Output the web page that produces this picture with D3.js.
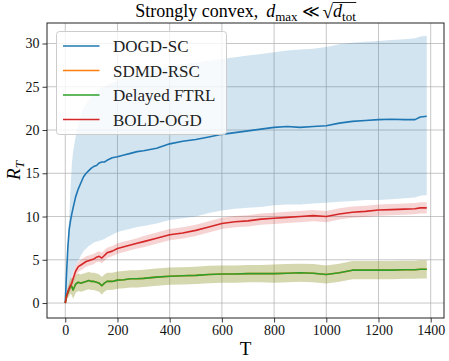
<!DOCTYPE html>
<html>
<head>
<meta charset="utf-8">
<script src="https://cdn.jsdelivr.net/npm/d3@7"></script>
<style>
  body { margin: 0; background: #fff; }
</style>
</head>
<body>
<svg id="chart" width="449" height="361"></svg>
<script>
// ----------------------------
// Data
// ----------------------------
const T = [0, 5, 10, 15, 20, 25, 30, 40, 50, 60, 70, 80, 90, 100, 110, 120, 130, 140, 150, 160,
  180, 200, 225, 250, 275, 300, 350, 400, 450, 500, 550, 600, 650, 700, 750, 800, 850, 900, 950,
  1000, 1050, 1100, 1150, 1200, 1250, 1300, 1340, 1360, 1385];

const dogdMean = [0, 3.5, 6.5, 8.5, 9.5, 10.3, 11.0, 12.3, 13.2, 13.9, 14.6, 15.0, 15.3, 15.6, 15.8, 15.9, 16.2, 16.3, 16.3, 16.5,
  16.8, 16.9, 17.1, 17.3, 17.5, 17.6, 17.9, 18.4, 18.7, 18.9, 19.2, 19.5, 19.7, 19.9, 20.1, 20.3, 20.4, 20.3, 20.4,
  20.5, 20.8, 21.0, 21.1, 21.2, 21.25, 21.2, 21.2, 21.5, 21.6];
const dogdHigh = [0, 4, 7, 10, 13, 16, 17.5, 19.3, 20.6, 21.8, 22.6, 23.0, 23.5, 23.9, 24.2, 24.5, 24.7, 24.9, 25.0, 25.2,
  25.5, 25.7, 26.0, 26.2, 26.5, 26.7, 27.0, 27.3, 27.6, 27.8, 28.0, 28.2, 28.4, 28.6, 28.8, 29.0, 29.2, 29.3, 29.4,
  29.6, 29.9, 30.1, 30.2, 30.3, 30.4, 30.5, 30.6, 30.8, 30.9];
const dogdLow = [0, 1.0, 1.7, 2.2, 2.6, 3.0, 3.5, 4.3, 4.9, 5.5, 6.0, 6.3, 6.6, 6.8, 7.0, 7.1, 7.2, 7.3, 7.4, 7.6,
  7.9, 8.2, 8.4, 8.6, 8.8, 8.9, 9.2, 9.6, 9.8, 10.0, 10.4, 10.7, 10.9, 11.0, 11.1, 11.3, 11.4, 11.4, 11.5,
  11.6, 11.7, 11.8, 11.9, 11.9, 12.0, 12.1, 12.2, 12.4, 12.5];

const ftrlMean = [0, 0.8, 1.2, 1.6, 2.0, 1.9, 1.5, 2.2, 2.4, 2.3, 2.4, 2.5, 2.6, 2.5, 2.5, 2.4, 2.3, 2.0, 2.3, 2.5,
  2.5, 2.65, 2.7, 2.8, 2.8, 2.85, 3.0, 3.1, 3.15, 3.2, 3.3, 3.35, 3.35, 3.4, 3.4, 3.4, 3.45, 3.5, 3.45,
  3.3, 3.5, 3.8, 3.8, 3.8, 3.8, 3.85, 3.85, 3.9, 3.9];
const ftrlSpread = [0, 0.4, 0.6, 0.8, 0.9, 1.0, 1.0, 1.0, 1.0, 1.0, 1.0, 1.0, 1.0, 1.0, 1.0, 1.0, 1.0, 1.0, 1.0, 1.0,
  1.0, 1.0, 1.0, 1.0, 1.0, 1.0, 1.0, 1.0, 1.0, 1.0, 1.0, 1.0, 1.0, 1.0, 1.0, 1.05, 1.05, 1.05, 1.05,
  1.05, 1.05, 1.05, 1.05, 1.05, 1.05, 1.05, 1.05, 1.05, 1.05];

// SDMD-RSC sits exactly under Delayed FTRL in the picture (only the olive band mix shows it)
const sdmdMean = ftrlMean;
const sdmdSpread = ftrlSpread;

const boldMean = [0, 0.8, 1.3, 1.7, 2.0, 2.3, 2.8, 3.7, 4.2, 4.4, 4.6, 4.8, 4.9, 5.0, 5.1, 5.3, 5.4, 5.2, 5.5, 5.8,
  6.0, 6.3, 6.5, 6.7, 6.9, 7.1, 7.5, 7.9, 8.1, 8.4, 8.8, 9.2, 9.4, 9.5, 9.7, 9.8, 9.9, 10.0, 10.1,
  10.0, 10.3, 10.5, 10.6, 10.75, 10.8, 10.85, 10.9, 11.0, 11.0];
const boldSpread = [0, 0.3, 0.4, 0.5, 0.55, 0.6, 0.6, 0.6, 0.6, 0.6, 0.6, 0.6, 0.6, 0.6, 0.6, 0.6, 0.6, 0.6, 0.6, 0.6,
  0.6, 0.6, 0.6, 0.6, 0.6, 0.65, 0.65, 0.65, 0.65, 0.65, 0.65, 0.65, 0.65, 0.65, 0.65, 0.65, 0.65, 0.65, 0.65,
  0.65, 0.65, 0.65, 0.65, 0.65, 0.65, 0.65, 0.65, 0.65, 0.65];

const legendLabels = ["DOGD-SC", "SDMD-RSC", "Delayed FTRL", "BOLD-OGD"];
const xTicks = [0, 200, 400, 600, 800, 1000, 1200, 1400];
const yTicks = [0, 5, 10, 15, 20, 25, 30];

const SERIF = "'Liberation Serif', 'Times New Roman', 'DejaVu Serif', serif";

// ----------------------------
// Setup
// ----------------------------
const svg = d3.select("#chart");
const width = +svg.attr("width");
const height = +svg.attr("height");
const margin = { top: 23, right: 5, bottom: 43, left: 47 };
const innerW = width - margin.left - margin.right;
const innerH = height - margin.top - margin.bottom;

const g = svg.append("g").attr("transform", `translate(${margin.left},${margin.top})`);

const x = d3.scaleLinear().domain([-70, 1451]).range([0, innerW]);
const y = d3.scaleLinear().domain([-1.73, 32.37]).range([innerH, 0]);

const series = [
  { name: legendLabels[0], color: "#1f77b4", mean: dogdMean, lo: dogdLow, hi: dogdHigh },
  { name: legendLabels[1], color: "#ff7f0e", mean: sdmdMean,
    lo: sdmdMean.map((v, i) => v - sdmdSpread[i]), hi: sdmdMean.map((v, i) => v + sdmdSpread[i]) },
  { name: legendLabels[2], color: "#2ca02c", mean: ftrlMean,
    lo: ftrlMean.map((v, i) => v - ftrlSpread[i]), hi: ftrlMean.map((v, i) => v + ftrlSpread[i]) },
  { name: legendLabels[3], color: "#d62728", mean: boldMean,
    lo: boldMean.map((v, i) => v - boldSpread[i]), hi: boldMean.map((v, i) => v + boldSpread[i]) }
];

// ----------------------------
// Grid
// ----------------------------
g.append("g").selectAll("line").data(xTicks).join("line")
  .attr("x1", d => x(d)).attr("x2", d => x(d))
  .attr("y1", 0).attr("y2", innerH)
  .attr("stroke", "#b0b0b0").attr("stroke-width", 0.9).attr("stroke-opacity", 0.8);
g.append("g").selectAll("line").data(yTicks).join("line")
  .attr("y1", d => y(d)).attr("y2", d => y(d))
  .attr("x1", 0).attr("x2", innerW)
  .attr("stroke", "#b0b0b0").attr("stroke-width", 0.9).attr("stroke-opacity", 0.8);

// ----------------------------
// Bands and lines
// ----------------------------
const plot = g.append("g");

series.forEach(s => {
  plot.append("path")
    .datum(T)
    .attr("fill", s.color)
    .attr("fill-opacity", 0.2)
    .attr("stroke", "none")
    .attr("d", d3.area()
      .x(d => x(d))
      .y0((d, i) => y(s.lo[i]))
      .y1((d, i) => y(s.hi[i])));
});

series.forEach(s => {
  plot.append("path")
    .datum(T)
    .attr("fill", "none")
    .attr("stroke", s.color)
    .attr("stroke-width", 1.6)
    .attr("stroke-linejoin", "round")
    .attr("d", d3.line()
      .x(d => x(d))
      .y((d, i) => y(s.mean[i])));
});

// ----------------------------
// Axes
// ----------------------------
const xAxis = g.append("g")
  .attr("transform", `translate(0,${innerH})`)
  .call(d3.axisBottom(x).tickValues(xTicks).tickFormat(d3.format("d"))
    .tickSize(4.5).tickPadding(3).tickSizeOuter(0));
const yAxis = g.append("g")
  .call(d3.axisLeft(y).tickValues(yTicks).tickFormat(d3.format("d"))
    .tickSize(4.5).tickPadding(3).tickSizeOuter(0));

[xAxis, yAxis].forEach(ax => {
  ax.attr("font-family", SERIF).attr("font-size", 14);
  ax.select(".domain").remove();
  ax.selectAll(".tick line").attr("stroke", "#222").attr("stroke-width", 0.9);
  ax.selectAll(".tick text").attr("fill", "#111");
});

g.append("rect")
  .attr("width", innerW).attr("height", innerH)
  .attr("fill", "none").attr("stroke", "#222").attr("stroke-width", 1);

// axis labels
svg.append("text")
  .attr("x", margin.left + innerW / 2).attr("y", 355)
  .attr("text-anchor", "middle")
  .attr("font-family", SERIF).attr("font-size", 19)
  .text("T");

const yLab = svg.append("text")
  .attr("transform", `translate(20,${margin.top + innerH / 2}) rotate(-90)`)
  .attr("text-anchor", "middle")
  .attr("font-family", SERIF).attr("font-size", 19);
yLab.append("tspan").attr("font-style", "italic").text("R");
yLab.append("tspan").attr("font-style", "italic").attr("font-size", 13).attr("dy", 4).text("T");

// ----------------------------
// Legend
// ----------------------------
const leg = svg.append("g").attr("transform", "translate(56.5,31.5)");
leg.append("rect")
  .attr("width", 170).attr("height", 103).attr("rx", 3)
  .attr("fill", "#fff").attr("fill-opacity", 0.8)
  .attr("stroke", "#cccccc").attr("stroke-width", 1);
series.forEach((s, i) => {
  const cy = 14.5 + i * 24.5;
  leg.append("line")
    .attr("x1", 6.5).attr("x2", 43).attr("y1", cy).attr("y2", cy)
    .attr("stroke", s.color).attr("stroke-width", 1.6);
  leg.append("text")
    .attr("x", 56.5).attr("y", cy + 6)
    .attr("font-family", SERIF).attr("font-size", 17)
    .attr("fill", "#222")
    .text(s.name);
});

// ----------------------------
// Title: Strongly convex, d_max << sqrt(d_tot)
// ----------------------------
const title = svg.append("g").attr("font-family", SERIF);
let cx = 0;
function piece(str, opts) {
  const t = title.append("text")
    .attr("x", cx).attr("y", 17 + (opts.dy || 0))
    .attr("font-size", opts.size || 18)
    .attr("font-style", opts.italic ? "italic" : "normal")
    .text(str);
  const w = t.node().getComputedTextLength();
  const x0 = cx;
  cx += w + (opts.after || 0);
  return [x0, cx];
}
piece("Strongly convex,", { after: 8 });
piece("d", { italic: true });
piece("max", { size: 13, dy: 3.5, after: 4 });
piece("\u226A", { size: 17, after: 3 });
const rad = piece("\u221A", { size: 19, dy: 1 });
piece("d", { italic: true });
const d2 = piece("tot", { size: 13, dy: 3.5 });
title.append("line")
  .attr("x1", rad[1] - 0.5).attr("x2", d2[1] + 0.5)
  .attr("y1", 2.5).attr("y2", 2.5)
  .attr("stroke", "#000").attr("stroke-width", 0.9);
title.attr("transform", `translate(${margin.left + innerW / 2 - cx / 2},0)`);
</script>
</body>
</html>
